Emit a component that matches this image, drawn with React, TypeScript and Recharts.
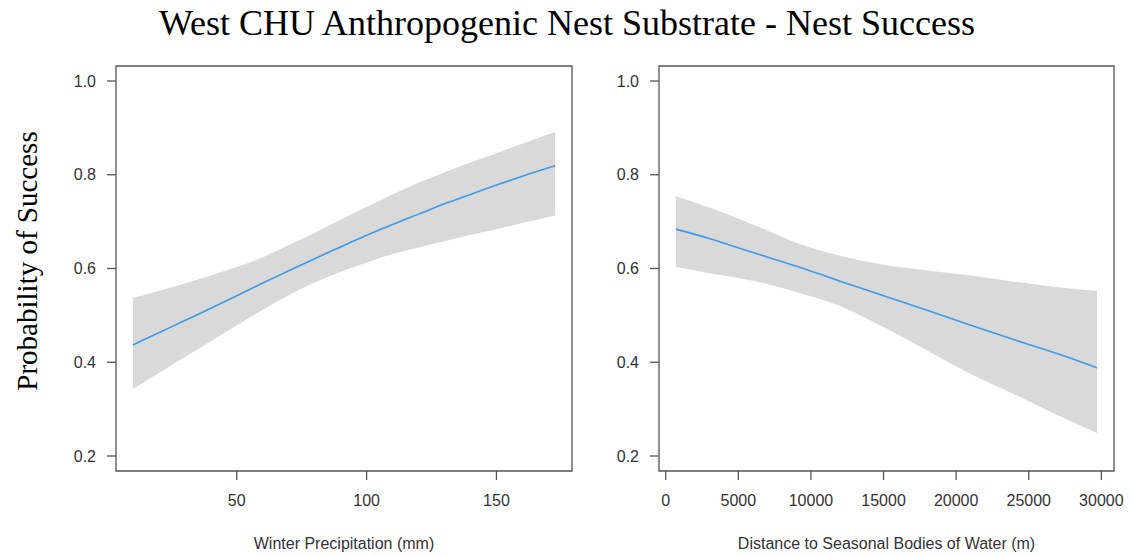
import React from "react";
import {
  ComposedChart,
  Area,
  Line,
  XAxis,
  YAxis,
  ReferenceArea,
} from "recharts";

// Winter precipitation panel (mm)
const precip = [10, 20, 30, 40, 50, 60, 70, 80, 90, 100, 110, 120, 130, 140, 150, 160, 172.6];
const precipFit = [0.437, 0.463, 0.489, 0.515, 0.542, 0.569, 0.595, 0.621, 0.646, 0.671, 0.694, 0.716, 0.738, 0.758, 0.778, 0.797, 0.819];
const precipLo = [0.343, 0.377, 0.411, 0.445, 0.479, 0.512, 0.543, 0.57, 0.593, 0.613, 0.631, 0.645, 0.658, 0.672, 0.684, 0.697, 0.713];
const precipHi = [0.537, 0.552, 0.568, 0.585, 0.603, 0.624, 0.65, 0.676, 0.704, 0.731, 0.758, 0.783, 0.805, 0.826, 0.846, 0.866, 0.891];
const precipTicks = [50, 100, 150];

// Distance to seasonal water panel (m)
const distance = [700, 3000, 6000, 9000, 12000, 15000, 18000, 21000, 24000, 27000, 29706];
const distFit = [0.684, 0.664, 0.634, 0.605, 0.573, 0.542, 0.511, 0.479, 0.448, 0.418, 0.388];
const distLo = [0.604, 0.59, 0.574, 0.55, 0.52, 0.475, 0.425, 0.375, 0.332, 0.287, 0.249];
const distHi = [0.754, 0.73, 0.694, 0.655, 0.627, 0.608, 0.596, 0.585, 0.572, 0.56, 0.552];
const distTicks = [0, 5000, 10000, 15000, 20000, 25000, 30000];

const probTicks = [0.2, 0.4, 0.6, 0.8, 1.0];
const Y_DOMAIN: [number, number] = [0.168, 1.032];

const SANS = "'Liberation Sans', Arial, sans-serif";
const SERIF = "'Liberation Serif', 'Times New Roman', serif";
const INK = "#555";

interface PanelProps {
  left: number;
  width: number;
  marginLeft: number;
  marginRight: number;
  xs: number[];
  fit: number[];
  lo: number[];
  hi: number[];
  xDomain: [number, number];
  xTicks: number[];
  xLabel: string;
}

function Panel({ left, width, marginLeft, marginRight, xs, fit, lo, hi, xDomain, xTicks, xLabel }: PanelProps) {
  const rows = xs.map((x, i) => ({ x, fit: fit[i], band: [lo[i], hi[i]] }));
  return (
    <div style={{ position: "absolute", left, top: 0 }}>
      <ComposedChart
        width={width}
        height={557}
        data={rows}
        margin={{ top: 66, right: marginRight, bottom: 0, left: marginLeft }}
      >
        <XAxis
          dataKey="x"
          type="number"
          domain={xDomain}
          ticks={xTicks}
          axisLine={false}
          tickSize={9}
          tickMargin={15}
          tickLine={{ stroke: INK, strokeWidth: 1.3 }}
          tick={{ fill: "#333", fontSize: 16, fontFamily: SANS }}
          height={86}
          label={{
            value: xLabel,
            position: "insideBottom",
            offset: 8,
            fill: "#333",
            fontSize: 16,
            fontFamily: SANS,
          }}
        />
        <YAxis
          type="number"
          domain={Y_DOMAIN}
          ticks={probTicks}
          width={60}
          axisLine={false}
          tickSize={9}
          tickMargin={11}
          tickLine={{ stroke: INK, strokeWidth: 1.3 }}
          tick={{ fill: "#333", fontSize: 16, fontFamily: SANS }}
          tickFormatter={(v) => Number(v).toFixed(1)}
        />
        <Area
          dataKey="band"
          type="monotone"
          fill="#d9d9d9"
          fillOpacity={1}
          stroke="none"
          isAnimationActive={false}
        />
        <Line
          dataKey="fit"
          type="monotone"
          stroke="#3d9ae8"
          strokeWidth={1.6}
          dot={false}
          isAnimationActive={false}
        />
        <ReferenceArea
          x1={xDomain[0]}
          x2={xDomain[1]}
          y1={Y_DOMAIN[0]}
          y2={Y_DOMAIN[1]}
          fill="none"
          fillOpacity={0}
          stroke={INK}
          strokeWidth={1.3}
          ifOverflow="visible"
        />
      </ComposedChart>
    </div>
  );
}

export default function App() {
  return (
    <div
      style={{
        position: "absolute",
        left: 0,
        top: 0,
        width: 1134,
        height: 557,
        background: "#fff",
        overflow: "hidden",
      }}
    >
      <svg width={1134} height={557} style={{ position: "absolute", left: 0, top: 0 }}>
        <text x={567} y={35} textAnchor="middle" fontFamily={SERIF} fontSize={36} fill="#000">
          West CHU Anthropogenic Nest Substrate - Nest Success
        </text>
        <text
          x={37}
          y={261}
          textAnchor="middle"
          fontFamily={SERIF}
          fontSize={29}
          fill="#000"
          transform="rotate(-90 37 261)"
        >
          Probability of Success
        </text>
      </svg>
      <Panel
        left={0}
        width={590}
        marginLeft={56}
        marginRight={18}
        xs={precip}
        fit={precipFit}
        lo={precipLo}
        hi={precipHi}
        xDomain={[3.5, 179.1]}
        xTicks={precipTicks}
        xLabel="Winter Precipitation (mm)"
      />
      <Panel
        left={590}
        width={544}
        marginLeft={9}
        marginRight={20}
        xs={distance}
        fit={distFit}
        lo={distLo}
        hi={distHi}
        xDomain={[-464, 30870]}
        xTicks={distTicks}
        xLabel="Distance to Seasonal Bodies of Water (m)"
      />
    </div>
  );
}
